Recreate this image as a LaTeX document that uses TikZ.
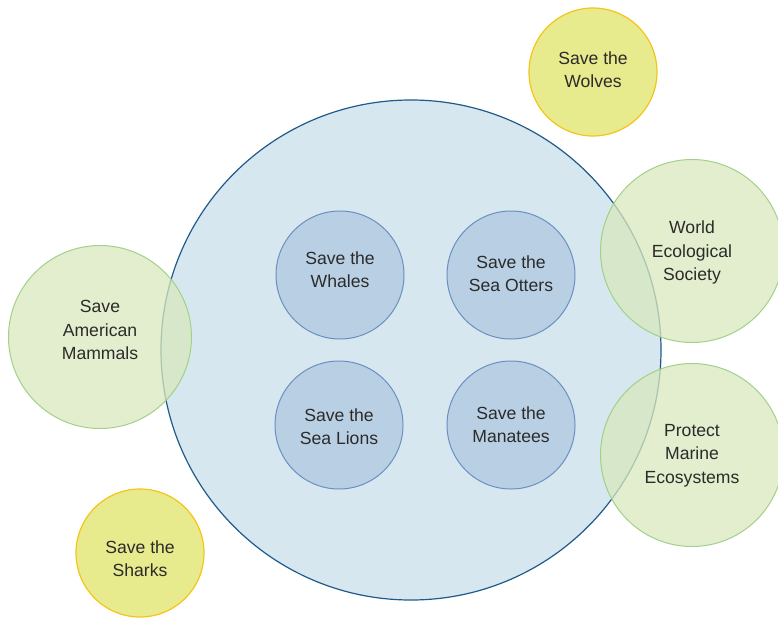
\documentclass[tikz,border=0pt]{standalone}
\usepackage{fontspec}
\setmainfont{Liberation Sans}
\usetikzlibrary{calc}
\definecolor{bigfill}{HTML}{D7E7F0}
\definecolor{bigdraw}{HTML}{1F5A8A}
\definecolor{smallfill}{HTML}{B9D0E4}
\definecolor{smalldraw}{HTML}{6B8FC0}
\definecolor{greenfill}{HTML}{D8E8BC}
\definecolor{greendraw}{HTML}{9FCF85}
\definecolor{yellowfill}{HTML}{E8EA8E}
\definecolor{yellowdraw}{HTML}{F5C518}
\definecolor{txt}{HTML}{2B2B2B}
\tikzset{
  base/.style={circle, inner sep=0pt},
  lbl/.style={align=center, text=txt, inner sep=0pt, font=\fontsize{17.6}{23.3}\selectfont},
  bigc/.style={base, fill=bigfill, draw=bigdraw, line width=1.2pt, minimum size=500pt},
  inner/.style={base, fill=smallfill, draw=smalldraw, line width=1pt, minimum size=128pt},
  greenc/.style={base, fill=greenfill, fill opacity=0.75, draw=greendraw, draw opacity=0.95, line width=1pt, minimum size=183pt},
  yellowc/.style={base, fill=yellowfill, draw=yellowdraw, line width=1.2pt, minimum size=128pt},
}
\begin{document}
\begin{tikzpicture}[x=1pt,y=-1pt]
\useasboundingbox (0,0) rectangle (778,618);
\node[bigc] (big) at (411,350) {};
\node[inner] (whales) at (340,275) {};
\node[inner] (otters) at (511,275) {};
\node[inner] (lions) at (339,425) {};
\node[inner] (manatees) at (511,425) {};
\node[greenc] (mammals) at (100,337) {};
\node[greenc] (world) at (692,251) {};
\node[greenc] (marine) at (692,455) {};
\node[yellowc] (wolves) at (593,72) {};
\node[yellowc] (sharks) at (140,553) {};
\node[lbl] (twhales) at ($(whales)+(0,-5)$) {Save the\\Whales};
\node[lbl] (totters) at ($(otters)+(0,-1.5)$) {Save the\\Sea Otters};
\node[lbl] (tlions) at ($(lions)+(0,1.5)$) {Save the\\Sea Lions};
\node[lbl] (tmanatees) at (manatees) {Save the\\Manatees};
\node[lbl] (tmammals) at ($(mammals)+(0,-7)$) {Save\\American\\Mammals};
\node[lbl] (tworld) at ($(world)+(0,1.5)$) {World\\Ecological\\Society};
\node[lbl] (tmarine) at ($(marine)+(0,0.5)$) {Protect\\Marine\\Ecosystems};
\node[lbl] (twolves) at ($(wolves)+(0,-2.5)$) {Save the\\Wolves};
\node[lbl] (tsharks) at ($(sharks)+(0,6)$) {Save the\\Sharks};
\end{tikzpicture}
\end{document}
